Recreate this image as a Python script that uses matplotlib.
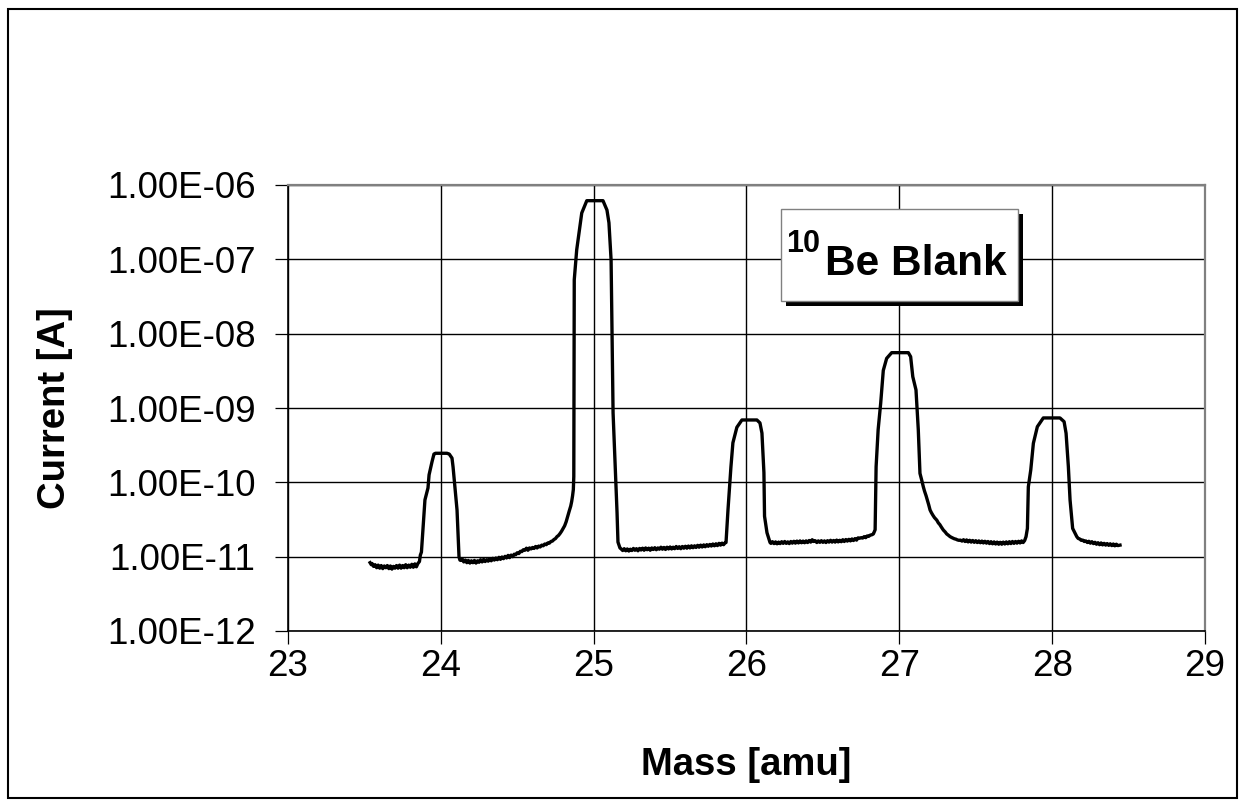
import numpy as np
import matplotlib
matplotlib.use("Agg")
import matplotlib.pyplot as plt
from matplotlib.patches import Rectangle
from matplotlib.ticker import FixedLocator, NullLocator

plt.rcParams["font.family"] = ["Liberation Sans", "DejaVu Sans"]

# ---- mass scan of a 10Be blank: ion current [A] versus mass [amu] ----
# baseline before mass 24 and the mass-24 peak
mass_24 = [23.537, 23.545, 23.55, 23.56, 23.57, 23.58, 23.59, 23.60, 23.61, 23.62,
           23.63, 23.64, 23.65, 23.66, 23.67, 23.68, 23.69, 23.70, 23.71, 23.72,
           23.73, 23.74, 23.75, 23.76, 23.77, 23.78, 23.79, 23.80, 23.81, 23.82,
           23.83, 23.84, 23.85, 23.86, 23.866, 23.873, 23.896, 23.916, 23.923, 23.942,
           23.955, 23.965, 24.04, 24.055, 24.073, 24.080, 24.106, 24.119, 24.125]
curr_24 = [8.3e-12, 7.8e-12, 8.1e-12, 7.4e-12, 7.8e-12, 7.1e-12, 7.7e-12, 7.0e-12, 7.6e-12, 6.9e-12,
           7.5e-12, 7.1e-12, 7.6e-12, 6.9e-12, 7.5e-12, 6.8e-12, 7.4e-12, 7.0e-12, 7.6e-12, 7.0e-12,
           7.7e-12, 7.0e-12, 7.6e-12, 7.1e-12, 7.8e-12, 7.1e-12, 7.7e-12, 7.2e-12, 7.9e-12, 7.2e-12,
           8.0e-12, 7.3e-12, 8.1e-12, 8.6e-12, 1.05e-11, 1.15e-11, 5.8e-11, 8.4e-11, 1.26e-10, 1.88e-10,
           2.40e-10, 2.46e-10, 2.46e-10, 2.40e-10, 2.12e-10, 1.61e-10, 4.24e-11, 9.9e-12, 9.0e-12]

# baseline between 24 and 25 (rising tail) and the mass-25 peak
mass_25 = [24.13, 24.14, 24.15, 24.16, 24.17, 24.18, 24.19, 24.20, 24.21, 24.22,
           24.23, 24.24, 24.25, 24.26, 24.27, 24.28, 24.29, 24.30, 24.31, 24.32,
           24.33, 24.34, 24.35, 24.36, 24.37, 24.38, 24.39, 24.40, 24.41, 24.42,
           24.43, 24.44, 24.45, 24.46, 24.47, 24.48, 24.49, 24.50, 24.51, 24.52,
           24.53, 24.54, 24.55, 24.56, 24.57, 24.58, 24.59, 24.60, 24.61, 24.62,
           24.63, 24.64, 24.65, 24.66, 24.67, 24.68, 24.69, 24.70, 24.71, 24.72,
           24.73, 24.74, 24.75, 24.76, 24.77, 24.78, 24.79, 24.80, 24.81, 24.82,
           24.83, 24.84, 24.85, 24.856, 24.862, 24.867, 24.870, 24.873, 24.889, 24.922,
           24.955, 25.061, 25.087, 25.100, 25.114, 25.127, 25.153, 25.159, 25.172, 25.18]
curr_25 = [8.9e-12, 9.3e-12, 8.5e-12, 9.0e-12, 8.3e-12, 8.9e-12, 8.2e-12, 8.8e-12, 8.3e-12, 8.9e-12,
           8.2e-12, 8.8e-12, 8.4e-12, 9.1e-12, 8.5e-12, 9.2e-12, 8.6e-12, 9.1e-12, 8.7e-12, 9.4e-12,
           8.8e-12, 9.5e-12, 9.0e-12, 9.6e-12, 9.1e-12, 9.8e-12, 9.2e-12, 9.9e-12, 9.4e-12, 1.01e-11,
           9.6e-12, 1.04e-11, 9.7e-12, 1.05e-11, 1.0e-11, 1.08e-11, 1.06e-11, 1.13e-11, 1.1e-11, 1.18e-11,
           1.17e-11, 1.24e-11, 1.22e-11, 1.3e-11, 1.22e-11, 1.31e-11, 1.27e-11, 1.33e-11, 1.29e-11, 1.37e-11,
           1.31e-11, 1.39e-11, 1.35e-11, 1.43e-11, 1.4e-11, 1.48e-11, 1.45e-11, 1.53e-11, 1.52e-11, 1.6e-11,
           1.62e-11, 1.7e-11, 1.75e-11, 1.86e-11, 1.93e-11, 2.05e-11, 2.2e-11, 2.4e-11, 2.6e-11, 2.95e-11,
           3.5e-11, 4.1e-11, 4.8e-11, 5.5e-11, 6.6e-11, 8.0e-11, 1.2e-10, 5.3e-08, 1.34e-07, 4.2e-07,
           6.15e-07, 6.15e-07, 4.6e-07, 3.1e-07, 9.8e-08, 8.6e-10, 3.9e-11, 1.57e-11, 1.31e-11, 1.27e-11]

# baseline between 25 and 26 and the mass-26 peak
mass_26 = [25.19, 25.20, 25.21, 25.22, 25.23, 25.24, 25.25, 25.26, 25.27, 25.28,
           25.29, 25.30, 25.31, 25.32, 25.33, 25.34, 25.35, 25.36, 25.37, 25.38,
           25.39, 25.40, 25.41, 25.42, 25.43, 25.44, 25.45, 25.46, 25.47, 25.48,
           25.49, 25.50, 25.51, 25.52, 25.53, 25.54, 25.55, 25.56, 25.57, 25.58,
           25.59, 25.60, 25.61, 25.62, 25.63, 25.64, 25.65, 25.66, 25.67, 25.68,
           25.69, 25.70, 25.71, 25.72, 25.73, 25.74, 25.75, 25.76, 25.77, 25.78,
           25.79, 25.80, 25.81, 25.82, 25.83, 25.84, 25.85, 25.86, 25.866, 25.879,
           25.898, 25.911, 25.937, 25.97, 26.068, 26.088, 26.101, 26.114, 26.118, 26.134,
           26.154]
curr_26 = [1.21e-11, 1.28e-11, 1.2e-11, 1.27e-11, 1.19e-11, 1.26e-11, 1.21e-11, 1.29e-11, 1.22e-11, 1.28e-11,
           1.2e-11, 1.29e-11, 1.23e-11, 1.3e-11, 1.22e-11, 1.31e-11, 1.24e-11, 1.3e-11, 1.22e-11, 1.31e-11,
           1.25e-11, 1.32e-11, 1.24e-11, 1.31e-11, 1.26e-11, 1.34e-11, 1.26e-11, 1.33e-11, 1.25e-11, 1.34e-11,
           1.27e-11, 1.35e-11, 1.27e-11, 1.34e-11, 1.28e-11, 1.37e-11, 1.29e-11, 1.36e-11, 1.28e-11, 1.37e-11,
           1.3e-11, 1.38e-11, 1.3e-11, 1.39e-11, 1.31e-11, 1.4e-11, 1.32e-11, 1.4e-11, 1.33e-11, 1.42e-11,
           1.34e-11, 1.43e-11, 1.35e-11, 1.44e-11, 1.36e-11, 1.45e-11, 1.38e-11, 1.46e-11, 1.39e-11, 1.48e-11,
           1.4e-11, 1.49e-11, 1.41e-11, 1.51e-11, 1.43e-11, 1.52e-11, 1.45e-11, 1.54e-11, 1.55e-11, 4.3e-11,
           1.6e-10, 3.4e-10, 5.5e-10, 6.9e-10, 6.9e-10, 6.3e-10, 4.6e-10, 1.35e-10, 3.5e-11, 2.1e-11,
           1.55e-11]

# baseline between 26 and 27 and the mass-27 peak with its tail
mass_27 = [26.16, 26.17, 26.18, 26.19, 26.20, 26.21, 26.22, 26.23, 26.24, 26.25,
           26.26, 26.27, 26.28, 26.29, 26.30, 26.31, 26.32, 26.33, 26.34, 26.35,
           26.36, 26.37, 26.38, 26.39, 26.40, 26.41, 26.42, 26.43, 26.44, 26.45,
           26.46, 26.47, 26.48, 26.49, 26.50, 26.51, 26.52, 26.53, 26.54, 26.55,
           26.56, 26.57, 26.58, 26.59, 26.60, 26.61, 26.62, 26.63, 26.64, 26.65,
           26.66, 26.67, 26.68, 26.69, 26.70, 26.71, 26.72, 26.73, 26.74, 26.75,
           26.76, 26.77, 26.78, 26.79, 26.80, 26.81, 26.82, 26.83, 26.8416, 26.848,
           26.8613, 26.878, 26.895, 26.917, 26.950, 27.059, 27.074, 27.088, 27.109, 27.124,
           27.135, 27.145, 27.157, 27.165, 27.175, 27.183, 27.192, 27.201, 27.21, 27.22,
           27.23, 27.245, 27.255, 27.265, 27.275, 27.288, 27.30, 27.31, 27.32, 27.332,
           27.345, 27.36, 27.37, 27.38, 27.39, 27.40]
curr_27 = [1.51e-11, 1.59e-11, 1.5e-11, 1.58e-11, 1.49e-11, 1.57e-11, 1.5e-11, 1.59e-11, 1.51e-11, 1.6e-11,
           1.51e-11, 1.58e-11, 1.5e-11, 1.6e-11, 1.52e-11, 1.61e-11, 1.52e-11, 1.62e-11, 1.53e-11, 1.63e-11,
           1.54e-11, 1.62e-11, 1.54e-11, 1.63e-11, 1.55e-11, 1.65e-11, 1.57e-11, 1.69e-11, 1.6e-11, 1.64e-11,
           1.55e-11, 1.63e-11, 1.56e-11, 1.64e-11, 1.56e-11, 1.63e-11, 1.55e-11, 1.64e-11, 1.57e-11, 1.66e-11,
           1.57e-11, 1.65e-11, 1.57e-11, 1.67e-11, 1.58e-11, 1.66e-11, 1.59e-11, 1.69e-11, 1.6e-11, 1.7e-11,
           1.62e-11, 1.71e-11, 1.63e-11, 1.73e-11, 1.65e-11, 1.75e-11, 1.67e-11, 1.79e-11, 1.77e-11, 1.8e-11,
           1.78e-11, 1.86e-11, 1.8e-11, 1.9e-11, 1.88e-11, 1.95e-11, 1.97e-11, 2.02e-11, 2.3e-11, 1.62e-10,
           5.1e-10, 1.16e-09, 3.2e-09, 4.65e-09, 5.55e-09, 5.55e-09, 4.9e-09, 2.64e-09, 1.75e-09, 5.1e-10,
           1.32e-10, 1.1e-10, 8.7e-11, 7.6e-11, 6.6e-11, 5.8e-11, 5.0e-11, 4.25e-11, 3.9e-11, 3.6e-11,
           3.35e-11, 3.1e-11, 2.85e-11, 2.7e-11, 2.5e-11, 2.28e-11, 2.15e-11, 2.02e-11, 1.95e-11, 1.86e-11,
           1.8e-11, 1.74e-11, 1.72e-11, 1.68e-11, 1.66e-11, 1.67e-11]

# baseline between 27 and 28, the mass-28 peak and the end of the scan
mass_28 = [27.41, 27.42, 27.43, 27.44, 27.45, 27.46, 27.47, 27.48, 27.49, 27.50,
           27.51, 27.52, 27.53, 27.54, 27.55, 27.56, 27.57, 27.58, 27.59, 27.60,
           27.61, 27.62, 27.63, 27.64, 27.65, 27.66, 27.67, 27.68, 27.69, 27.70,
           27.71, 27.72, 27.73, 27.74, 27.75, 27.76, 27.77, 27.78, 27.79, 27.80,
           27.81, 27.82, 27.829, 27.838, 27.844, 27.860, 27.877, 27.903, 27.942, 28.051,
           28.078, 28.091, 28.106, 28.117, 28.134, 28.161, 28.17, 28.18, 28.19, 28.20,
           28.21, 28.22, 28.23, 28.24, 28.25, 28.26, 28.27, 28.28, 28.29, 28.30,
           28.31, 28.32, 28.33, 28.34, 28.35, 28.36, 28.37, 28.38, 28.39, 28.40,
           28.41, 28.42, 28.43, 28.444]
curr_28 = [1.62e-11, 1.69e-11, 1.6e-11, 1.68e-11, 1.58e-11, 1.66e-11, 1.57e-11, 1.65e-11, 1.56e-11, 1.64e-11,
           1.55e-11, 1.63e-11, 1.54e-11, 1.62e-11, 1.53e-11, 1.61e-11, 1.52e-11, 1.6e-11, 1.5e-11, 1.59e-11,
           1.49e-11, 1.58e-11, 1.48e-11, 1.57e-11, 1.47e-11, 1.56e-11, 1.47e-11, 1.57e-11, 1.48e-11, 1.58e-11,
           1.49e-11, 1.59e-11, 1.5e-11, 1.6e-11, 1.51e-11, 1.6e-11, 1.52e-11, 1.61e-11, 1.53e-11, 1.63e-11,
           1.55e-11, 1.65e-11, 1.86e-11, 2.4e-11, 8.7e-11, 1.47e-10, 3.35e-10, 5.6e-10, 7.35e-10, 7.35e-10,
           6.55e-10, 4.57e-10, 1.62e-10, 5.8e-11, 2.4e-11, 1.86e-11, 1.76e-11, 1.73e-11, 1.66e-11, 1.67e-11,
           1.6e-11, 1.63e-11, 1.55e-11, 1.61e-11, 1.52e-11, 1.59e-11, 1.5e-11, 1.56e-11, 1.47e-11, 1.54e-11,
           1.45e-11, 1.53e-11, 1.44e-11, 1.51e-11, 1.43e-11, 1.5e-11, 1.42e-11, 1.49e-11, 1.41e-11, 1.48e-11,
           1.4e-11, 1.47e-11, 1.41e-11, 1.43e-11]

x_ticks = [23, 24, 25, 26, 27, 28, 29]
y_ticks = [1e-12, 1e-11, 1e-10, 1e-09, 1e-08, 1e-07, 1e-06]
y_tick_labels = ["1.00E-12", "1.00E-11", "1.00E-10", "1.00E-09",
                 "1.00E-08", "1.00E-07", "1.00E-06"]

mass = np.concatenate([mass_24, mass_25, mass_26, mass_27, mass_28])
current = np.concatenate([curr_24, curr_25, curr_26, curr_27, curr_28])

W, H = 1246, 807
fig = plt.figure(figsize=(W / 100, H / 100), dpi=100)
fig.patch.set_facecolor("white")

# plot area in pixel units
L, R, T, B = 288, 1205, 185, 631
ax = fig.add_axes([L / W, 1 - B / H, (R - L) / W, (B - T) / H])

ax.plot(mass, current, color="black", lw=2.4, solid_joinstyle="round")

ax.set_yscale("log")
ax.set_xlim(23, 29)
ax.set_ylim(1e-12, 1e-6)
ax.xaxis.set_major_locator(FixedLocator(x_ticks))
ax.set_xticklabels([str(v) for v in x_ticks])
ax.yaxis.set_major_locator(FixedLocator(y_ticks))
ax.yaxis.set_minor_locator(NullLocator())
ax.set_yticklabels(y_tick_labels)

ax.grid(True, which="major", color="black", lw=1.0)
ax.set_axisbelow(True)

for side in ("left", "bottom"):
    ax.spines[side].set_color("black")
    ax.spines[side].set_linewidth(1.2)
for side in ("top", "right"):
    ax.spines[side].set_color("#808080")
    ax.spines[side].set_linewidth(1.6)

ax.tick_params(axis="both", which="major", direction="out", length=9.4,
               width=0.9, color="black", labelsize=26.5, labelcolor="black")
ax.tick_params(axis="y", pad=14)
ax.tick_params(axis="x", pad=3.5)

fig.text(55 / W, 1 - 408 / H, "Current [A]", rotation=90, ha="center", va="center",
         fontsize=27.5, fontweight="bold")
fig.text((L + R) / 2 / W, 1 - 765 / H, "Mass [amu]", ha="center", va="center",
         fontsize=27.5, fontweight="bold")

# label box with drop shadow
bx0, by0, bx1, by1 = 781, 209, 1018, 301
shadow = Rectangle(((bx0 + 5) / W, 1 - (by1 + 5) / H), (bx1 - bx0) / W, (by1 - by0) / H,
                   transform=fig.transFigure, facecolor="black", edgecolor="none", zorder=5)
box = Rectangle((bx0 / W, 1 - by1 / H), (bx1 - bx0) / W, (by1 - by0) / H,
                transform=fig.transFigure, facecolor="white", edgecolor="#808080",
                lw=1.0, zorder=6)
fig.patches.extend([shadow, box])
fig.text(786 / W, 1 - 252 / H, "10", fontsize=22, fontweight="bold",
         ha="left", va="baseline", zorder=7)
fig.text(825 / W, 1 - 275 / H, "Be Blank", fontsize=30.5, fontweight="bold",
         ha="left", va="baseline", zorder=7)

# outer chart border
border = Rectangle((8 / W, 1 - 798 / H), (1237 - 8) / W, (798 - 9) / H,
                   transform=fig.transFigure, facecolor="none", edgecolor="black",
                   lw=1.5, zorder=10)
fig.patches.append(border)

fig.savefig("out.png", dpi=100, facecolor="white")
